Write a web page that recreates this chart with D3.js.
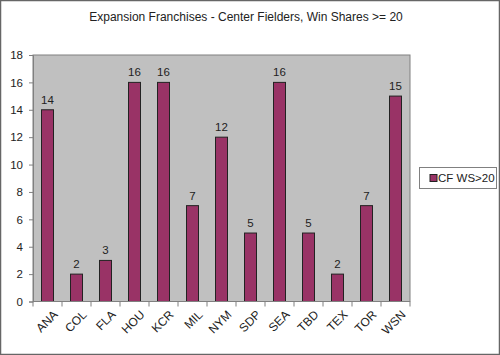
<!DOCTYPE html>
<html><head><meta charset="utf-8">
<script src="https://cdn.jsdelivr.net/npm/d3@7"></script>
<style>body{margin:0;background:#fff}svg{display:block;font-family:"Liberation Sans",Arial,sans-serif}</style>
</head><body><svg id="c" width="500" height="355"></svg>
<script>
const categories = ["ANA","COL","FLA","HOU","KCR","MIL","NYM","SDP","SEA","TBD","TEX","TOR","WSN"];
const values = [14,2,3,16,16,7,12,5,16,5,2,7,15];
const yTicks = [0,2,4,6,8,10,12,14,16,18];
const seriesName = "CF WS>20";
const title = "Expansion Franchises - Center Fielders, Win Shares >= 20";

const svg = d3.select("#c");
svg.append("rect").attr("x",0.5).attr("y",0.5).attr("width",499).attr("height",354)
  .attr("fill","#fff").attr("stroke","#666").attr("stroke-width",1.5);

const L=33,R=410,T=55,B=301.5;
const x = d3.scaleBand().domain(categories).range([L,R]).paddingInner(0).paddingOuter(0);
const y = d3.scaleLinear().domain([0,18]).range([B,T]);

svg.append("text").attr("x",246).attr("y",21).attr("text-anchor","middle")
  .attr("font-size",12).attr("fill","#222").text(title);

svg.append("rect").attr("x",L).attr("y",T).attr("width",R-L).attr("height",B-T)
  .attr("fill","#c0c0c0").attr("stroke","#808080").attr("stroke-width",1);

const bw = 12;
svg.selectAll(".bar").data(values).join("rect")
  .attr("x",(d,i)=>x(categories[i])+x.bandwidth()/2-bw/2)
  .attr("y",d=>y(d)).attr("width",bw).attr("height",d=>B-y(d))
  .attr("fill","#993366").attr("stroke","#222").attr("stroke-width",1);

svg.selectAll(".vl").data(values).join("text")
  .attr("x",(d,i)=>x(categories[i])+x.bandwidth()/2)
  .attr("y",d=>y(d)-6).attr("text-anchor","middle").attr("font-size",11.5).attr("fill","#222")
  .text(d=>d);

// y axis
const ya = svg.append("g").attr("transform",`translate(${L},0)`)
  .call(d3.axisLeft(y).tickValues(yTicks).tickSize(4).tickPadding(6));
ya.select(".domain").attr("stroke","#808080");
ya.selectAll("line").attr("stroke","#808080");
ya.selectAll("text").attr("font-size",11.5).attr("fill","#222").attr("font-family","Liberation Sans, Arial, sans-serif");

// x axis
const xa = svg.append("g").attr("transform",`translate(0,${B})`);
xa.append("line").attr("x1",L).attr("x2",R).attr("stroke","#808080");
const bounds = categories.map(c=>x(c)).concat([R]);
xa.selectAll(".tk").data(bounds).join("line").attr("x1",d=>d).attr("x2",d=>d)
  .attr("y1",0).attr("y2",5).attr("stroke","#808080");
xa.selectAll(".xl").data(categories).join("text")
  .attr("transform",d=>`translate(${x(d)+x.bandwidth()/2+5},${8}) rotate(-45)`)
  .attr("text-anchor","end").attr("font-size",12).attr("fill","#222").attr("dy","0.7em")
  .text(d=>d);

// legend
const lg = svg.append("g");
lg.append("rect").attr("x",419.5).attr("y",167.5).attr("width",77).attr("height",21)
  .attr("fill","#fff").attr("stroke","#808080");
lg.append("rect").attr("x",430).attr("y",174.5).attr("width",7).attr("height",7)
  .attr("fill","#993366").attr("stroke","#222");
lg.append("text").attr("x",438).attr("y",182).attr("font-size",11.5).attr("fill","#222").text(seriesName);
</script></body></html>
